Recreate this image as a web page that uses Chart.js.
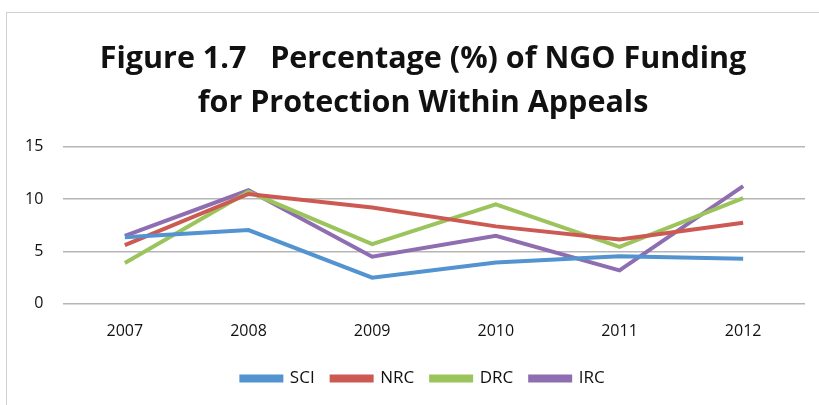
<!DOCTYPE html>
<html>
<head>
<meta charset="utf-8">
<script src="https://cdn.jsdelivr.net/npm/chart.js@4"></script>
<style>
  body { margin:0; background:#fff; }
  #cadre { position:absolute; left:6px; top:12px; width:830px; height:420px; border-left:1px solid #d0d0d0; border-top:1px solid #d0d0d0; }
  #zone { position:absolute; left:0; top:0; width:819px; height:405px; }
</style>
</head>
<body>
<div id="cadre"></div>
<div id="zone"><canvas id="graphe_ngo" width="819" height="405"></canvas></div>
<script>
// donnees
const annees = ["2007","2008","2009","2010","2011","2012"];
const sci = [6.35, 7.05, 2.5, 3.95, 4.55, 4.3];
const nrc = [5.6, 10.5, 9.2, 7.4, 6.15, 7.75];
const drc = [3.9, 10.7, 5.7, 9.5, 5.45, 10.1];
const irc = [6.5, 10.85, 4.5, 6.5, 3.2, 11.25];
const ticksY = [0, 5, 10, 15];

let couleurs = ["#5393cf", "#cc5a52", "#9cc45c", "#8e6db0"];
let noms = ["SCI", "NRC", "DRC", "IRC"];
let series = [sci, nrc, drc, irc];

let datasets = [];
for (let i = 0; i < series.length; i++) {
	datasets.push({
		label: noms[i],
		data: series[i],
		borderColor: couleurs[i],
		backgroundColor: couleurs[i],
		borderWidth: 4,
		pointRadius: 0,
		tension: 0,
		fill: false
	});
}

new Chart(document.getElementById("graphe_ngo"), {
	type: 'line',
	data: { labels: annees, datasets: datasets },
	options: {
		responsive: false,
		animation: false,
		layout: { padding: { left: 41, right: 14, top: 37, bottom: 8 } },
		plugins: {
			title: {
				display: true,
				text: ["Figure 1.7   Percentage (%) of NGO Funding", "for Protection Within Appeals"],
				color: "#111",
				font: { family: "Open Sans", weight: "bold", size: 30.5, lineHeight: 1.44 },
				padding: { top: 0, bottom: 22 }
			},
			legend: {
				position: 'bottom',
				labels: {
					boxWidth: 40, boxHeight: 4, color: "#111",
					font: { family: "Open Sans", size: 17 },
					padding: 17
				}
			},
			tooltip: { enabled: false }
		},
		scales: {
			x: {
				offset: true,
				grid: { display: false },
				border: { display: false },
				ticks: { color: "#111", font: { family: "Open Sans", size: 16 }, padding: 10 },
				afterFit: function(axe) { axe.height += 2; }
			},
			y: {
				min: 0, max: 15,
				afterBuildTicks: function(axe) { axe.ticks = ticksY.map(v => ({ value: v })); },
				afterFit: function(axe) { axe.width = 22; },
				grid: { color: "#b5b5b5", lineWidth: 1.5, drawTicks: false },
				border: { display: false },
				// etiquettes placees a gauche de la grille (mirror pour eviter le clip)
				ticks: { color: "#111", font: { family: "Open Sans", size: 16 }, mirror: true, crossAlign: 'far', padding: -38 }
			}
		}
	}
});
</script>
</body>
</html>
